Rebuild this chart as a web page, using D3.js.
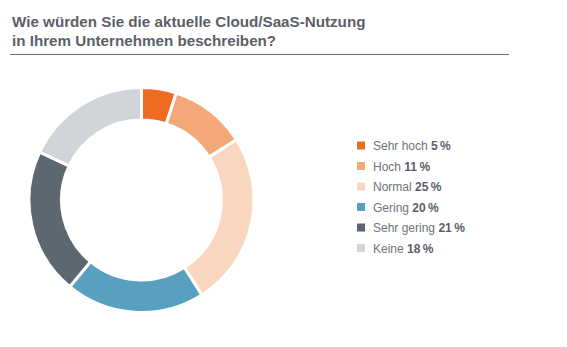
<!DOCTYPE html>
<html>
<head>
<meta charset="utf-8">
<script src="https://cdn.jsdelivr.net/npm/d3@7"></script>
<style>
  html, body { margin: 0; padding: 0; background: #ffffff; }
  svg { display: block; font-family: "Liberation Sans", Arial, Helvetica, sans-serif; }
</style>
</head>
<body>
<svg id="chart" width="567" height="347"></svg>
<script>
// Survey answers: how would you describe current Cloud/SaaS usage?
const categories = ["Sehr hoch", "Hoch", "Normal", "Gering", "Sehr gering", "Keine"];
const shares = [5, 11, 25, 20, 21, 18];
const colors = ["#ee6b22", "#f4a777", "#fbd6be", "#58a0c0", "#5d6772", "#d1d5da"];
const titleLines = ["Wie würden Sie die aktuelle Cloud/SaaS-Nutzung", "in Ihrem Unternehmen beschreiben?"];

const svg = d3.select("#chart");

// Title
svg.append("g")
  .selectAll("text")
  .data(titleLines)
  .join("text")
  .attr("x", 12)
  .attr("y", (d, i) => 26.5 + i * 19)
  .attr("fill", "#5b6068")
  .attr("font-size", 15.2)
  .attr("font-weight", "bold")
  .text(d => d);

svg.append("line")
  .attr("x1", 10).attr("x2", 509)
  .attr("y1", 54.5).attr("y2", 54.5)
  .attr("stroke", "#6a6e74")
  .attr("stroke-width", 1.2);

// Donut
const data = categories.map((c, i) => ({ name: c, value: shares[i], color: colors[i] }));
const pie = d3.pie().value(d => d.value).sort(null);
const arc = d3.arc().innerRadius(80).outerRadius(112.5);

svg.append("g")
  .attr("transform", "translate(141.5,200)")
  .selectAll("path")
  .data(pie(data))
  .join("path")
  .attr("d", arc)
  .attr("fill", d => d.data.color)
  .attr("stroke", "#ffffff")
  .attr("stroke-width", 3);

// Legend
const rowY = d3.scalePoint().domain(categories).range([145.5, 248]);
const legend = svg.append("g")
  .selectAll("g")
  .data(data)
  .join("g")
  .attr("transform", d => `translate(357,${rowY(d.name)})`);

legend.append("rect")
  .attr("x", 0).attr("y", -4)
  .attr("width", 8).attr("height", 8)
  .attr("fill", d => d.color);

const label = legend.append("text")
  .attr("x", 16).attr("y", 4.5)
  .attr("font-size", 12)
  .attr("fill", "#6e737a");

label.append("tspan").text(d => d.name + " ");
label.append("tspan")
  .attr("font-weight", "bold")
  .attr("fill", "#5b6068")
  .text(d => d.value + "\u2009%");
</script>
</body>
</html>
